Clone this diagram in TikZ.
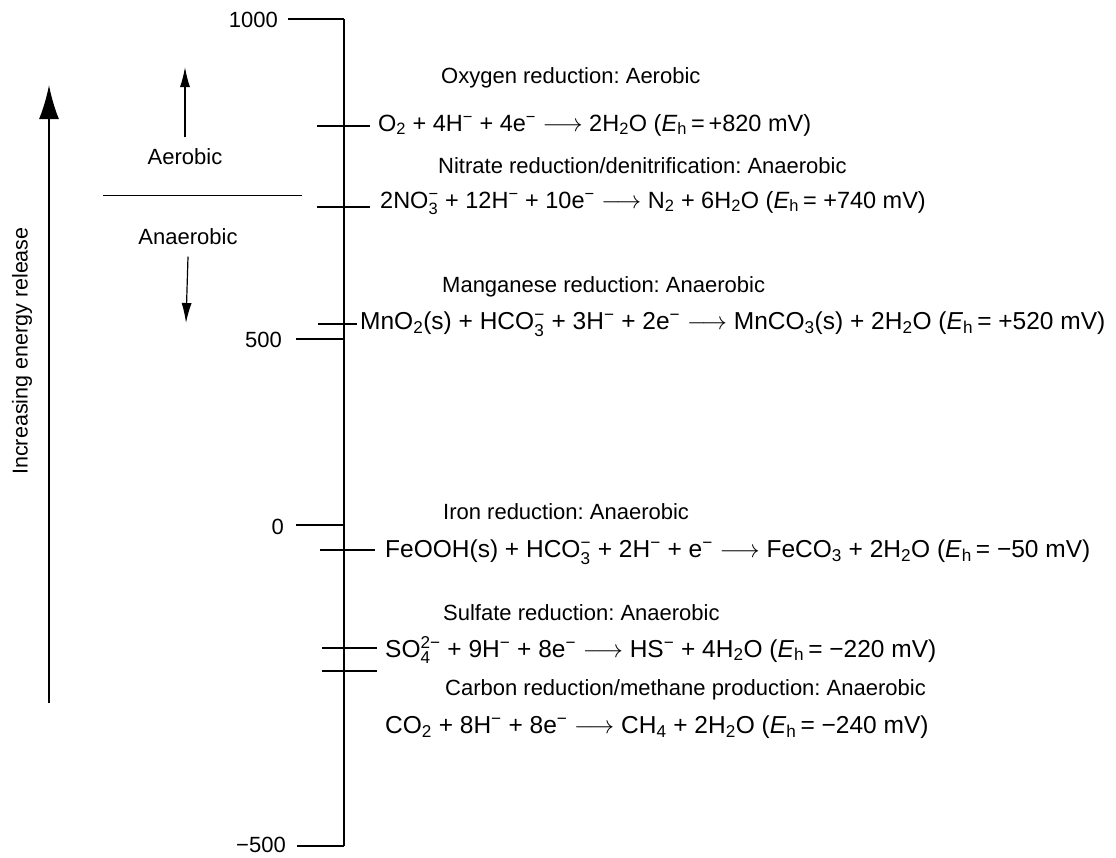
\documentclass[tikz,border=0pt]{standalone}
\usepackage{amsmath}
\usepackage{fontspec}
\setmainfont{Liberation Sans}
\usepackage{tikz}
\usetikzlibrary{arrows.meta,positioning}
\newcommand\sbs[1]{$_{\text{#1}}$}
\newcommand\sps[1]{$^{\text{#1}}$}
\newcommand\ssp[2]{$^{\text{#2}}_{\text{#1}}$}
\newcommand\rarr{\;$\longrightarrow$\;}
\newcommand\Eh{\textit{E}\sbs{h}}
\frenchspacing

\begin{document}
\begin{tikzpicture}[
    x=1pt, y=-1pt,
    font=\fontsize{22}{26}\selectfont,
    title/.style={anchor=west, inner sep=0pt},
    eqn/.style={anchor=west, inner sep=0pt, font=\fontsize{24.5}{28}\selectfont},
    num/.style={anchor=east, inner sep=0pt},
    axis/.style={line width=2.6pt},
    scaletick/.style={line width=2pt},
    rtick/.style={line width=1.5pt},
    bigarrow/.style={-{Latex[length=34pt,width=20pt]}, line width=2pt},
    arrow/.style={-{Latex[length=20pt,width=10pt]}, line width=1.2pt}
]
\useasboundingbox (0,0) rectangle (1116,857);

% energy scale
\coordinate (top) at (344,19);
\coordinate (bot) at (344,846);
\draw[axis] (top) -- (bot);
\draw[scaletick] (288,19) -- (top);
\draw[scaletick] (296,339) -- (344,339);
\draw[scaletick] (296,525) -- (344,525);
\draw[scaletick] (297,846) -- (bot);
\node[num] (v1000) at (278,20) {1000};
\node[num] (v500) at (282,340) {500};
\node[num] (v0) at (284,527) {0};
\node[num] (vm500) at (286,845) {−500};

% reaction marks
\foreach \y/\l/\r in {126/317/370, 207/317/370, 324/318/357, 550/320/375, 648/322/377, 671/322/377}
  \draw[rtick] (\l,\y) -- (\r,\y);

% increasing energy
\coordinate (ebot) at (49,703);
\coordinate (etop) at (49,85);
\draw[bigarrow] (ebot) -- (etop);
\node[rotate=90, font=\fontsize{21.5}{25}\selectfont] (energy) at (22,351) {Increasing energy release};

% aerobic / anaerobic
\node (aer) at (185,157) {Aerobic};
\node (anaer) at (188,237) {Anaerobic};
\coordinate (upt) at (185,67);
\coordinate (dnt) at (186,323);
\draw[arrow] (aer.north) ++(0,-8) coordinate (upb) -- (upt);
\draw[arrow] (anaer.south) ++(0,8) coordinate (dnb) -- (dnt);
\draw[line width=1pt] (103,195) -- (302,195);

% reactions
\node[title] (oxt) at (441,78) {Oxygen reduction: Aerobic};
\node[eqn, font=\fontsize{23.5}{28}\selectfont] (oxe) at (378,125) {O\sbs{2} + 4H\sps{−} + 4e\sps{−}\rarr 2H\sbs{2}O (\Eh\,=\,+820 mV)};
\node[title] (nit) at (438,166) {Nitrate reduction/denitrification: Anaerobic};
\node[eqn, font=\fontsize{23.5}{28}\selectfont] (nie) at (380,203) {2NO\ssp{3}{−} + 12H\sps{−} + 10e\sps{−}\rarr N\sbs{2} + 6H\sbs{2}O (\Eh\,= +740 mV)};
\node[title] (mnt) at (442,287) {Manganese reduction: Anaerobic};
\node[eqn] (mne) at (360,324) {MnO\sbs{2}(s) + HCO\ssp{3}{−} + 3H\sps{−} + 2e\sps{−}\rarr MnCO\sbs{3}(s) + 2H\sbs{2}O (\Eh\,= +520 mV)};
\node[title] (fet) at (443,512) {Iron reduction: Anaerobic};
\node[eqn] (fee) at (385,552) {FeOOH(s) + HCO\ssp{3}{−} + 2H\sps{−} + e\sps{−}\rarr FeCO\sbs{3} + 2H\sbs{2}O (\Eh\,= −50 mV)};
\node[title] (sot) at (443,613) {Sulfate reduction: Anaerobic};
\node[eqn] (soe) at (385,650) {SO\ssp{4}{2−} + 9H\sps{−} + 8e\sps{−}\rarr HS\sps{−} + 4H\sbs{2}O (\Eh\,= −220 mV)};
\node[title] (cot) at (445,690) {Carbon reduction/methane production: Anaerobic};
\node[eqn] (coe) at (385,727) {CO\sbs{2} + 8H\sps{−} + 8e\sps{−}\rarr CH\sbs{4} + 2H\sbs{2}O (\Eh\,= −240 mV)};
\end{tikzpicture}
\end{document}
